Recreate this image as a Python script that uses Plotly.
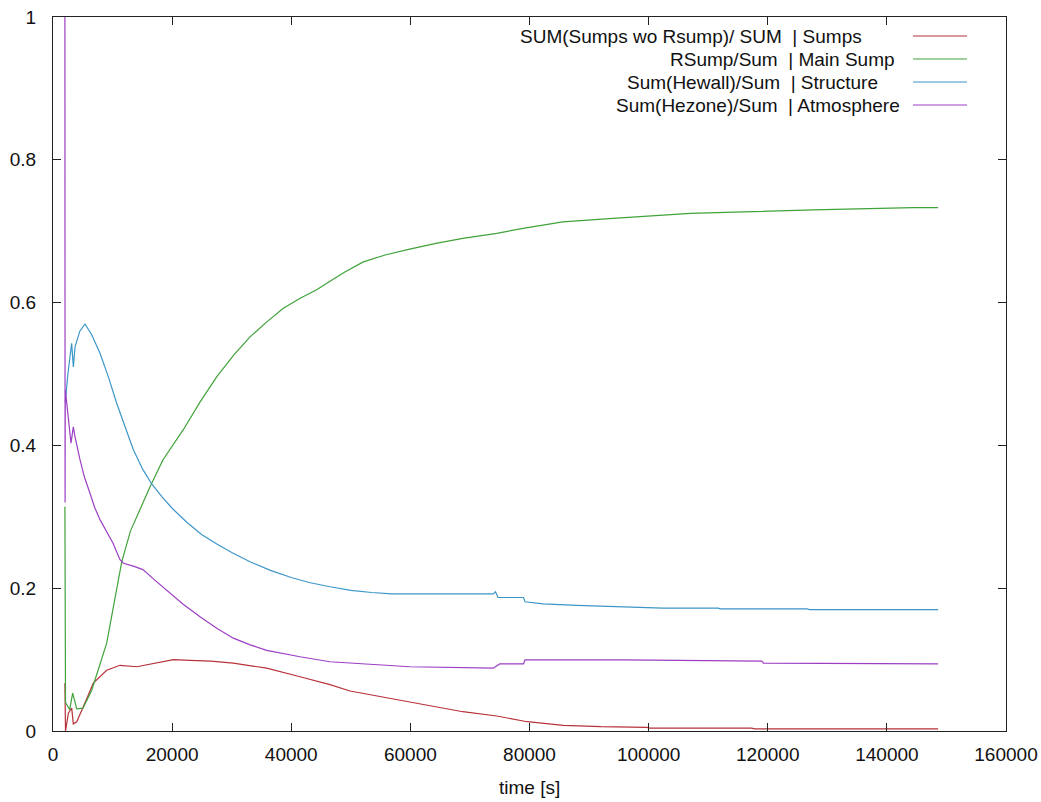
import plotly.graph_objects as go

# ---------------- data ----------------
t_sumps = [2000, 2100, 2580, 3140, 3410, 3980, 5090, 6770, 9010, 11250, 14050, 16850,
           20230, 23000, 26500, 30270, 35880, 41470, 46500, 49870, 54500, 59900, 64500,
           68800, 74500, 79600, 85700, 92000, 99700, 100200, 117300, 117800, 148600]
v_sumps = [0.067, 0.0, 0.025, 0.032, 0.010, 0.013, 0.034, 0.067, 0.085, 0.092, 0.090, 0.095,
           0.100, 0.099, 0.098, 0.095, 0.088, 0.076, 0.065, 0.056, 0.049, 0.041, 0.034,
           0.027, 0.021, 0.013, 0.008, 0.006, 0.005, 0.004, 0.004, 0.003, 0.003]

t_main = [2000, 2100, 2800, 3300, 3980, 5040, 6500, 9010, 11540, 13000, 14700, 16290, 18470,
          21880, 24700, 27480, 30300, 33080, 35900, 38670, 41500, 44270, 46500, 49000, 52100,
          55900, 59900, 64300, 68800, 74500, 78900, 85600, 94000, 102400, 107000, 115900,
          127600, 144400, 148600]
v_main = [0.314, 0.040, 0.030, 0.053, 0.031, 0.032, 0.057, 0.123, 0.237, 0.280, 0.312, 0.342,
          0.380, 0.422, 0.461, 0.496, 0.526, 0.552, 0.573, 0.592, 0.606, 0.618, 0.630, 0.643,
          0.657, 0.667, 0.675, 0.683, 0.690, 0.697, 0.704, 0.713, 0.718, 0.722, 0.725, 0.727,
          0.730, 0.733, 0.733]

t_struct = [2060, 2500, 3130, 3420, 3700, 4500, 5370, 6500, 7890, 9300, 10690, 12100, 13490,
            15100, 16570, 18300, 20000, 22500, 25000, 27500, 30000, 33080, 36500, 40000,
            43000, 46500, 50000, 53500, 56900, 73900, 74300, 74700, 79000, 79250, 82300,
            88000, 95200, 102400, 111700, 112000, 126600, 127000, 148600]
v_struct = [0.460, 0.500, 0.543, 0.510, 0.538, 0.560, 0.570, 0.555, 0.529, 0.496, 0.459, 0.425,
            0.394, 0.366, 0.346, 0.328, 0.312, 0.292, 0.275, 0.262, 0.250, 0.237, 0.225, 0.215,
            0.208, 0.202, 0.197, 0.194, 0.192, 0.192, 0.195, 0.187, 0.187, 0.181, 0.178,
            0.176, 0.174, 0.172, 0.172, 0.171, 0.171, 0.170, 0.170]

t_atmos = [2000, 2030, 2060, 2300, 2850, 3020, 3410, 3700, 4530, 5300, 6210, 7000, 7890,
           9000, 10080, 11250, 11810, 13500, 15100, 17000, 19090, 21800, 24680, 27500,
           30270, 33000, 35880, 38700, 41470, 46500, 49870, 55000, 59900, 73900, 75000,
           79000, 79250, 95700, 119000, 119300, 133800, 134000, 148600]
v_atmos = [1.0, 0.32, 0.478, 0.460, 0.410, 0.403, 0.426, 0.412, 0.380, 0.355, 0.333, 0.313,
           0.296, 0.279, 0.263, 0.240, 0.235, 0.231, 0.226, 0.212, 0.197, 0.178, 0.160,
           0.144, 0.130, 0.121, 0.113, 0.108, 0.104, 0.097, 0.095, 0.092, 0.090, 0.088,
           0.094, 0.094, 0.0995, 0.0995, 0.098, 0.095, 0.095, 0.094, 0.094]

names = ["SUM(Sumps wo Rsump)/ SUM  | Sumps",
         "RSump/Sum  | Main Sump",
         "Sum(Hewall)/Sum  | Structure",
         "Sum(Hezone)/Sum  | Atmosphere"]
colors = ["#b8323a", "#3fa33a", "#3d96c8", "#9c3fc4"]

x_ticks = [0, 20000, 40000, 60000, 80000, 100000, 120000, 140000, 160000]
x_tick_text = ["0", "20000", "40000", "60000", "80000", "100000", "120000", "140000", "160000"]
y_ticks = [0, 0.2, 0.4, 0.6, 0.8, 1.0]
y_tick_text = ["0", "0.2", "0.4", "0.6", "0.8", "1"]

FONT = "Liberation Sans, Arial, sans-serif"
W, H = 1041, 802
L, R, T, B = 53, 1006, 17, 731   # plot area in pixels


def px(x):
    return (x - L) / (R - L)


def py(y):
    return (B - y) / (B - T)


fig = go.Figure()
series = [(t_sumps, v_sumps), (t_main, v_main), (t_struct, v_struct), (t_atmos, v_atmos)]
for (tt, vv), nm, c in zip(series, names, colors):
    fig.add_trace(go.Scatter(x=tt, y=vv, mode="lines", name=nm,
                             line=dict(color=c, width=1.2), showlegend=False))

# gnuplot-style key: right-justified text followed by the line sample
legend_y = [36, 59, 82, 105]
text_right = [864, 897, 880, 902]
for nm, c, yy, xr in zip(names, colors, legend_y, text_right):
    fig.add_annotation(text=nm, xref="paper", yref="paper", x=px(xr), y=py(yy),
                       xanchor="right", yanchor="middle", showarrow=False,
                       font=dict(family=FONT, size=19, color="#111"))
    fig.add_shape(type="line", xref="paper", yref="paper",
                  x0=px(913), x1=px(967), y0=py(yy), y1=py(yy),
                  line=dict(color=c, width=1.2))

# x-axis title
fig.add_annotation(text="time [s]", xref="paper", yref="paper", x=px(529), y=py(787),
                   xanchor="center", yanchor="middle", showarrow=False,
                   font=dict(family=FONT, size=19, color="#111"))

fig.update_layout(
    width=W, height=H,
    margin=dict(l=L, r=W - R, t=T, b=H - B, pad=0, autoexpand=False),
    paper_bgcolor="white", plot_bgcolor="white",
    font=dict(family=FONT, size=19, color="#111"),
    showlegend=False,
)
fig.update_xaxes(range=[0, 160000], tickvals=x_ticks, ticktext=x_tick_text,
                 showgrid=False, zeroline=False, showline=True, linecolor="#222",
                 linewidth=1, mirror="allticks", ticks="inside", ticklen=8,
                 tickcolor="#222", ticklabelstandoff=6, automargin=False)
fig.update_yaxes(range=[0, 1], tickvals=y_ticks, ticktext=y_tick_text,
                 showgrid=False, zeroline=False, showline=True, linecolor="#222",
                 linewidth=1, mirror="allticks", ticks="inside", ticklen=8,
                 tickcolor="#222", ticklabelstandoff=12, automargin=False)

fig.write_html("out.html")
